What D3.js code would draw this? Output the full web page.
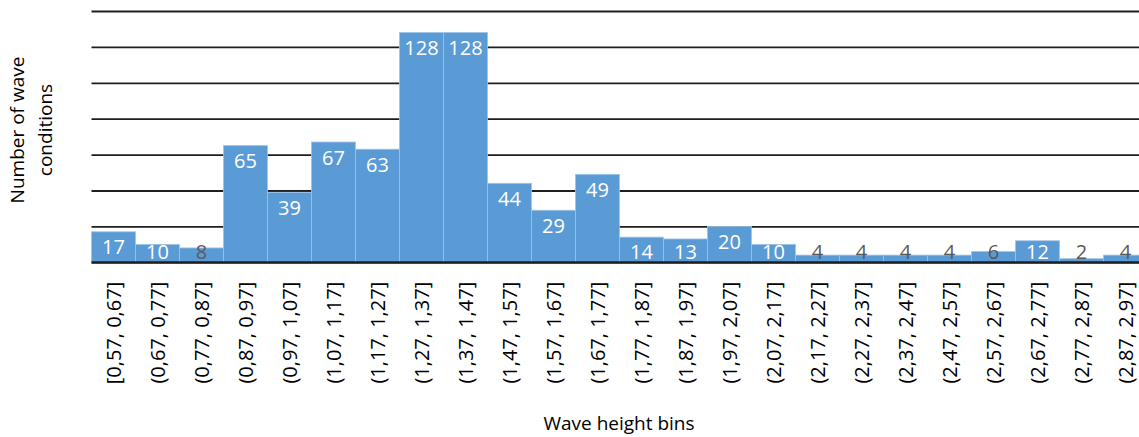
<!DOCTYPE html>
<html>
<head>
<meta charset="utf-8">
<script src="https://cdn.jsdelivr.net/npm/d3@7"></script>
<style>
  html, body { margin: 0; padding: 0; background: #fff; overflow: hidden; }
  svg { display: block; font-family: "Open Sans", sans-serif; }
</style>
</head>
<body>
<svg id="chart" width="1139" height="437"></svg>
<script>
// Wave height bins (m) and the number of wave conditions in each
const bins = [
  "[0,57, 0,67]", "(0,67, 0,77]", "(0,77, 0,87]", "(0,87, 0,97]",
  "(0,97, 1,07]", "(1,07, 1,17]", "(1,17, 1,27]", "(1,27, 1,37]",
  "(1,37, 1,47]", "(1,47, 1,57]", "(1,57, 1,67]", "(1,67, 1,77]",
  "(1,77, 1,87]", "(1,87, 1,97]", "(1,97, 2,07]", "(2,07, 2,17]",
  "(2,17, 2,27]", "(2,27, 2,37]", "(2,37, 2,47]", "(2,47, 2,57]",
  "(2,57, 2,67]", "(2,67, 2,77]", "(2,77, 2,87]", "(2,87, 2,97]"
];
const counts = [17, 10, 8, 65, 39, 67, 63, 128, 128, 44, 29, 49,
                14, 13, 20, 10, 4, 4, 4, 4, 6, 12, 2, 4];
const gridValues = [0, 20, 40, 60, 80, 100, 120, 140];

const svg = d3.select("#chart");
const left = 91.5, step = 44, baseY = 262.3, topY = 11;

const x = d3.scaleBand()
  .domain(bins)
  .range([left, left + step * bins.length])
  .padding(0);

const y = d3.scaleLinear()
  .domain([0, 140])
  .range([baseY, topY]);

// horizontal gridlines
const grid = svg.append("g")
  .attr("transform", `translate(${left},0)`)
  .call(d3.axisLeft(y).tickValues(gridValues).tickSize(-(1139 - left + 20)).tickFormat(""));
grid.select(".domain").remove();
grid.selectAll(".tick line")
  .attr("stroke", "#1e1e1e")
  .attr("stroke-width", 1.8);

// bars
svg.append("g").selectAll("rect")
  .data(counts)
  .join("rect")
  .attr("x", (d, i) => x(bins[i]))
  .attr("y", d => y(d))
  .attr("width", x.bandwidth())
  .attr("height", d => y(0) - y(d))
  .attr("fill", "#5b9bd5")
  .attr("stroke", "#9ec3e8")
  .attr("stroke-width", 0.8);

// baseline
svg.append("line")
  .attr("x1", left).attr("x2", 1139)
  .attr("y1", y(0)).attr("y2", y(0))
  .attr("stroke", "#1e1e1e").attr("stroke-width", 2);

// value labels: inside the bar top, clamped near the baseline for short bars
svg.append("g").selectAll("text")
  .data(counts)
  .join("text")
  .attr("x", (d, i) => x(bins[i]) + x.bandwidth() / 2)
  .attr("y", d => Math.min(y(d) + 22.7, baseY - 3.3))
  .attr("text-anchor", "middle")
  .attr("font-size", 20)
  .attr("fill", d => (y(d) <= Math.min(y(d) + 22.7, baseY - 3.3) - 13 ? "#ffffff" : "#595959"))
  .text(d => d);

// category axis with rotated labels
const xAxis = svg.append("g")
  .attr("transform", `translate(0,${baseY})`)
  .call(d3.axisBottom(x).tickSize(0));
xAxis.select(".domain").remove();
xAxis.selectAll("text")
  .attr("font-family", "Open Sans, sans-serif")
  .attr("font-size", 20)
  .attr("fill", "#000")
  .attr("text-anchor", "end")
  .attr("transform", "rotate(-90)")
  .attr("x", -19.5)
  .attr("y", 0)
  .attr("dy", "0.36em");

// axis titles
svg.append("text")
  .attr("x", 619)
  .attr("y", 430)
  .attr("text-anchor", "middle")
  .attr("font-size", 19)
  .attr("fill", "#000")
  .text("Wave height bins");

const yTitle = svg.append("text")
  .attr("transform", "translate(24,130) rotate(-90)")
  .attr("text-anchor", "middle")
  .attr("font-size", 19)
  .attr("fill", "#000");
yTitle.append("tspan").attr("x", 0).attr("y", 0).text("Number of wave");
yTitle.append("tspan").attr("x", 0).attr("y", 27.7).text("conditions");
</script>
</body>
</html>
